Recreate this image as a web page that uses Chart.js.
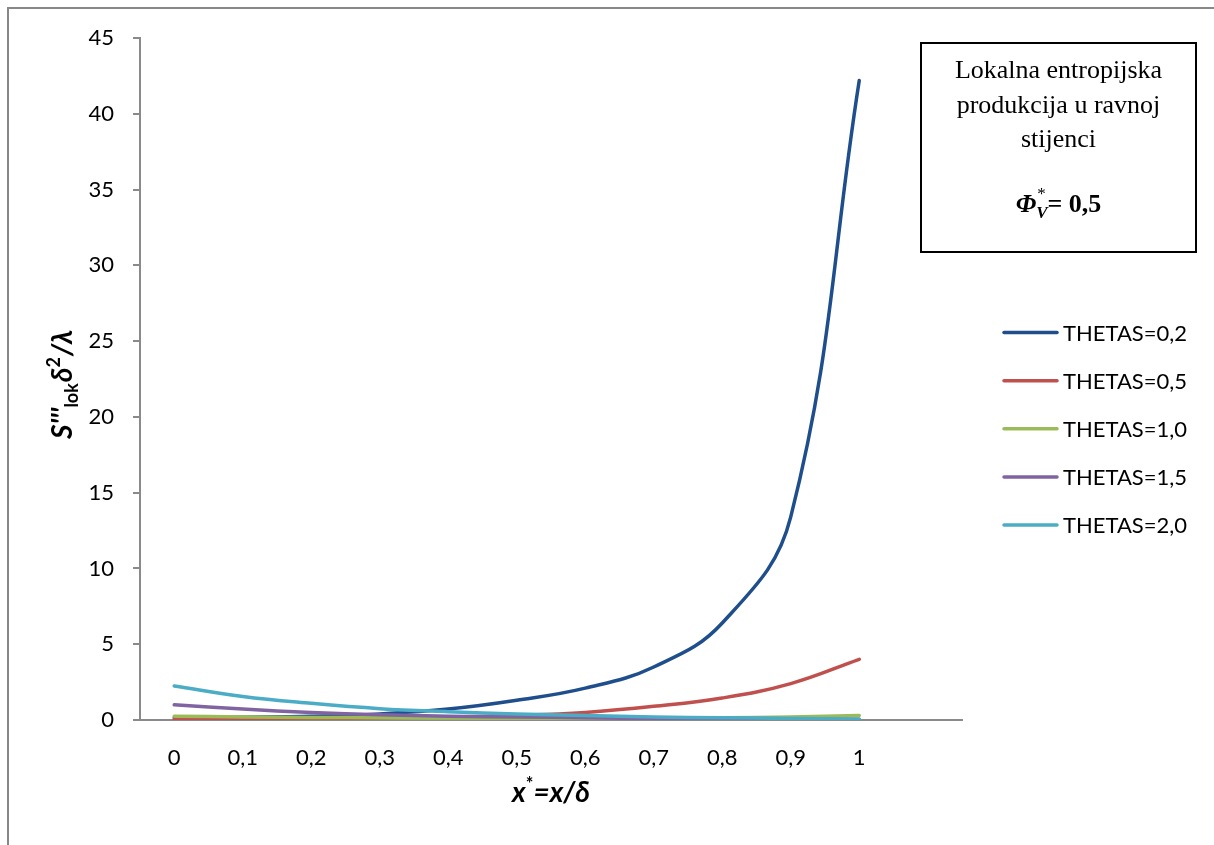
<!DOCTYPE html>
<html>
<head>
<meta charset="utf-8">
<script src="https://cdn.jsdelivr.net/npm/chart.js@4.4.0/dist/chart.umd.min.js"></script>
<style>
  html, body { margin: 0; padding: 0; background: #fff; }
  #wrap { width: 1214px; height: 845px; }
</style>
</head>
<body>
<div id="wrap"><canvas id="myChart" width="1214" height="845"></canvas></div>
<script>
const categories = ["0", "0,1", "0,2", "0,3", "0,4", "0,5", "0,6", "0,7", "0,8", "0,9", "1", ""];
const seriesNames = ["THETAS=0,2", "THETAS=0,5", "THETAS=1,0", "THETAS=1,5", "THETAS=2,0"];
const seriesColors = ["#1F4E8C", "#C0504D", "#9BBB59", "#8064A2", "#4BACC6"];
const thetas02 = [0.15, 0.18, 0.24, 0.4, 0.72, 1.3, 2.1, 3.5, 6.4, 13.4, 42.2];
const thetas05 = [0.05, 0.07, 0.1, 0.14, 0.2, 0.3, 0.5, 0.9, 1.45, 2.4, 4.0];
const thetas10 = [0.25, 0.2, 0.17, 0.15, 0.13, 0.12, 0.12, 0.13, 0.15, 0.2, 0.3];
const thetas15 = [1.0, 0.72, 0.5, 0.35, 0.25, 0.2, 0.15, 0.1, 0.08, 0.06, 0.05];
const thetas20 = [2.25, 1.55, 1.1, 0.75, 0.55, 0.4, 0.3, 0.2, 0.15, 0.1, 0.05];
const boxLines = ["Lokalna entropijska", "produkcija u ravnoj", "stijenci"];

const allSeries = [thetas02, thetas05, thetas10, thetas15, thetas20];
const sans = "Lato, 'Open Sans', sans-serif";
const serif = "'Liberation Serif', 'Times New Roman', serif";
const axisGray = "#8a8a8a";

// draws the page frame, axis titles, note box and legend
const extras = {
  id: "extras",
  afterDraw(chart) {
    const c = chart.ctx;
    c.save();

    // outer frame
    c.strokeStyle = "#888";
    c.lineWidth = 2;
    c.beginPath();
    c.moveTo(8, 845);
    c.lineTo(8, 8);
    c.lineTo(1214, 8);
    c.stroke();

    // y title, rotated
    c.save();
    c.translate(72, 439);
    c.rotate(-Math.PI / 2);
    c.fillStyle = "#000";
    c.textBaseline = "alphabetic";
    c.textAlign = "left";
    let x = 0;
    const big = "italic bold 28px " + sans;
    const small = "bold 18px " + sans;
    c.font = big; c.fillText("S'''", x, 0); x += c.measureText("S'''").width;
    c.font = small; c.fillText("lok", x, 6); x += c.measureText("lok").width + 1;
    c.font = big; c.fillText("δ", x, 0); x += c.measureText("δ").width;
    c.font = small; c.fillText("2", x, -12); x += c.measureText("2").width + 1;
    c.font = big; c.fillText("/λ", x, 0);
    c.restore();

    // x title
    const xa = chart.chartArea;
    c.fillStyle = "#000";
    c.textBaseline = "alphabetic";
    c.textAlign = "left";
    c.font = big;
    const w1 = c.measureText("x").width;
    const w3 = c.measureText("=x/δ").width;
    c.font = small;
    const w2 = c.measureText("*").width;
    let tx = (xa.left + xa.right) / 2 - (w1 + w2 + w3) / 2;
    c.font = big; c.fillText("x", tx, 802); tx += w1;
    c.font = small; c.fillText("*", tx, 790); tx += w2;
    c.font = big; c.fillText("=x/δ", tx, 802);

    // note box
    c.strokeStyle = "#000";
    c.lineWidth = 2;
    c.strokeRect(921, 43, 275, 209);
    const cx = 1058.5;
    c.textAlign = "center";
    c.font = "26px " + serif;
    boxLines.forEach((t, i) => c.fillText(t, cx, 78 + i * 34.5));
    c.textAlign = "left";
    c.font = "italic bold 26px " + serif;
    const pw = c.measureText("Φ").width;
    c.font = "italic bold 17px " + serif;
    const vw = c.measureText("V").width;
    c.font = "bold 26px " + serif;
    const ew = c.measureText("= 0,5").width;
    let px = cx - (pw + vw + ew) / 2;
    c.font = "italic bold 26px " + serif; c.fillText("Φ", px, 212); px += pw;
    c.font = "italic bold 17px " + serif; c.fillText("V", px, 218);
    c.font = "17px " + serif; c.fillText("*", px + 1, 199); px += vw;
    c.font = "bold 26px " + serif; c.fillText("= 0,5", px, 212);

    // legend
    c.font = "22px " + sans;
    c.textBaseline = "middle";
    chart.data.datasets.forEach((ds, i) => {
      const ly = 332.6 + i * 48.1;
      c.strokeStyle = ds.borderColor;
      c.lineWidth = 3.5;
      c.lineCap = "round";
      c.beginPath();
      c.moveTo(1004, ly);
      c.lineTo(1057, ly);
      c.stroke();
      c.fillStyle = "#000";
      c.fillText(ds.label, 1063, ly + 1);
    });
    c.restore();
  },
};

const ctx = document.getElementById("myChart");
const myChart = new Chart(ctx, {
  type: "line",
  data: {
    labels: categories,
    datasets: allSeries.map((vals, i) => ({
      label: seriesNames[i],
      data: vals,
      borderColor: seriesColors[i],
      backgroundColor: seriesColors[i],
      borderWidth: 3.5,
      borderCapStyle: "round",
      pointRadius: 0,
      tension: 0.4,
      fill: false,
      order: 4 - i,
    })),
  },
  options: {
    responsive: false,
    animation: false,
    devicePixelRatio: 1,
    layout: { padding: { top: 38, right: 252, left: 0, bottom: 0 } },
    plugins: { legend: { display: false }, tooltip: { enabled: false } },
    scales: {
      x: {
        type: "category",
        offset: true,
        grid: { display: false },
        border: { color: axisGray, width: 2 },
        ticks: { color: "#000", font: { family: sans, size: 22 }, padding: 17, maxRotation: 0, autoSkip: false },
        afterFit: (s) => { s.height = 125; },
      },
      y: {
        min: 0,
        max: 45,
        grid: { drawOnChartArea: false, color: axisGray, lineWidth: 2, tickLength: 7 },
        border: { color: axisGray, width: 2 },
        ticks: { stepSize: 5, color: "#000", font: { family: sans, size: 22 }, padding: 19 },
        afterFit: (s) => { s.width = 140; },
      },
    },
  },
  plugins: [extras],
});
</script>
</body>
</html>
